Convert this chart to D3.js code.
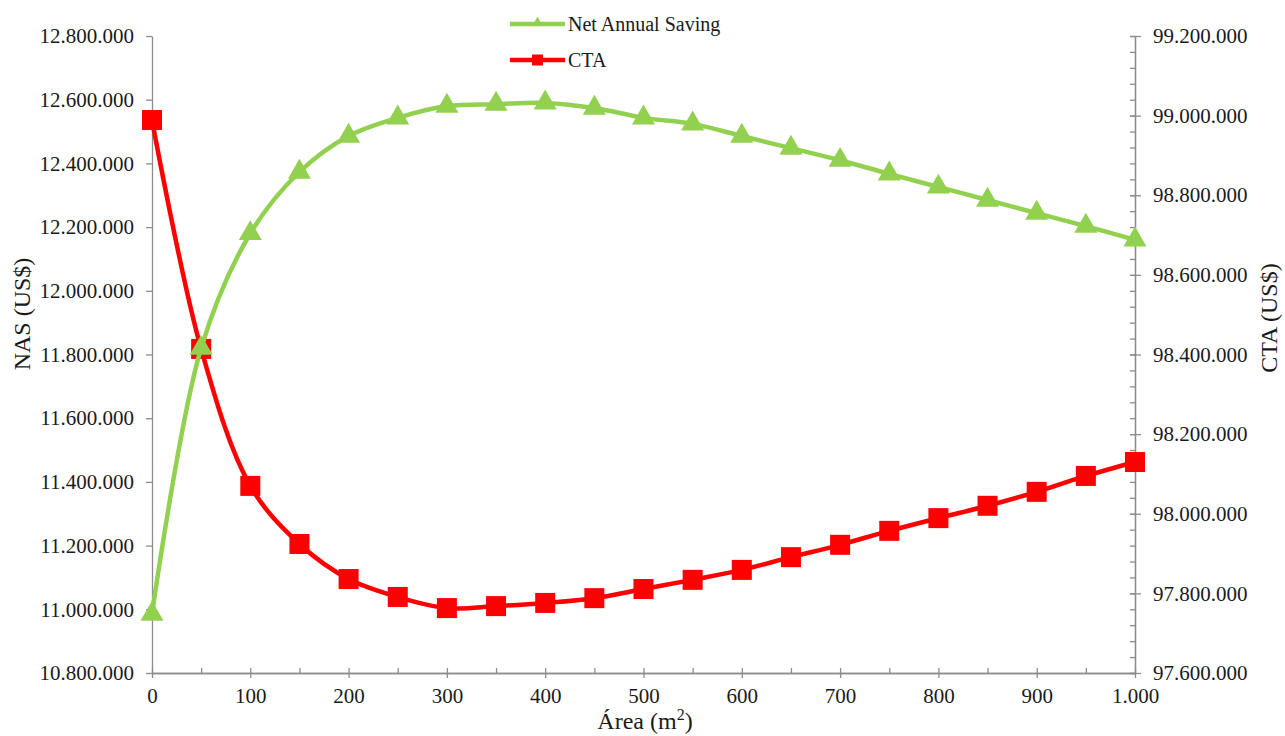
<!DOCTYPE html>
<html>
<head>
<meta charset="utf-8">
<script src="https://cdn.jsdelivr.net/npm/d3@7"></script>
<style>
  html, body { margin: 0; padding: 0; background: #fff; }
  svg { display: block; }
  text { font-family: "Liberation Serif", "Times New Roman", serif; fill: #1a1a1a; }
</style>
</head>
<body>
<svg id="chart" width="1285" height="736"></svg>
<script>
const area = [0, 50, 100, 150, 200, 250, 300, 350, 400, 450, 500, 550, 600, 650, 700, 750, 800, 850, 900, 950, 1000];
const nas = [10985000, 11820000, 12180000, 12373000, 12486000, 12543000, 12580000, 12586000, 12590000, 12574000, 12543000, 12524000, 12486000, 12448000, 12410000, 12367000, 12326000, 12285000, 12244000, 12203000, 12160000];
const cta = [98989000, 98414000, 98070000, 97924000, 97836000, 97791000, 97763000, 97768000, 97776000, 97788000, 97811000, 97834000, 97859000, 97891000, 97922000, 97957000, 97989000, 98020000, 98055000, 98095000, 98130000];
const xTicks = [0, 100, 200, 300, 400, 500, 600, 700, 800, 900, 1000];
const leftTicks = [10800000, 11000000, 11200000, 11400000, 11600000, 11800000, 12000000, 12200000, 12400000, 12600000, 12800000];
const rightTicks = [97600000, 97800000, 98000000, 98200000, 98400000, 98600000, 98800000, 99000000, 99200000];
const seriesNames = ["Net Annual Saving", "CTA"];
const colors = { nas: "#92D050", cta: "#FF0000", axis: "#8c8c8c" };

const svg = d3.select("#chart");
const L = 152, R = 1135, T = 36, B = 673;
const FONT = '"Liberation Serif", "Times New Roman", serif';

const x = d3.scaleLinear().domain([0, 1000]).range([L, R]);
const yL = d3.scaleLinear().domain([10800000, 12800000]).range([B, T]);
const yR = d3.scaleLinear().domain([97600000, 99200000]).range([B, T]);

const fmt = v => d3.format(",")(v).replace(/,/g, ".");

// Left axis
svg.append("g").attr("transform", `translate(${L},0)`)
  .call(d3.axisLeft(yL).tickValues(leftTicks).tickFormat(fmt).tickSizeInner(6).tickSizeOuter(0).tickPadding(12));
// Right axis: minor ticks
const minorR = d3.range(97600000, 99200001, 40000);
svg.append("g").attr("transform", `translate(${R},0)`)
  .call(d3.axisLeft(yR).tickValues(minorR).tickFormat("").tickSizeInner(5).tickSizeOuter(0));
const gR = svg.append("g").attr("transform", `translate(${R},0)`)
  .call(d3.axisRight(yR).tickValues(rightTicks).tickFormat(fmt).tickSizeInner(6).tickSizeOuter(0).tickPadding(12));
gR.selectAll(".tick line").attr("x1", -5);
// Bottom axis minor
const minorX = d3.range(50, 1000, 100);
svg.append("g").attr("transform", `translate(0,${B})`)
  .call(d3.axisTop(x).tickValues(minorX).tickFormat("").tickSizeInner(5).tickSizeOuter(0));
const gX = svg.append("g").attr("transform", `translate(0,${B})`)
  .call(d3.axisBottom(x).tickValues(xTicks).tickFormat(fmt).tickSizeInner(5).tickSizeOuter(0).tickPadding(10));
gX.selectAll(".tick line").attr("y1", -5);

svg.selectAll(".domain").attr("stroke", colors.axis).attr("stroke-width", 1.3);
svg.selectAll(".tick line").attr("stroke", colors.axis).attr("stroke-width", 1.3);
svg.selectAll(".tick text").style("font-family", FONT).style("font-size", "21px").style("fill", "#1a1a1a");

// Axis titles
svg.append("text").attr("transform", `translate(30,314) rotate(-90)`)
  .attr("text-anchor", "middle").style("font-family", FONT).style("font-size", "24px").text("NAS (US$)");
svg.append("text").attr("transform", `translate(1277,318) rotate(-90)`)
  .attr("text-anchor", "middle").style("font-family", FONT).style("font-size", "24px").text("CTA (US$)");
const xt = svg.append("text").attr("x", 645).attr("y", 729).attr("text-anchor", "middle")
  .style("font-family", FONT).style("font-size", "24px");
xt.append("tspan").text("Área (m");
xt.append("tspan").style("font-size", "16px").attr("dy", -9).text("2");
xt.append("tspan").attr("dy", 9).text(")");

// Lines
const curve = d3.curveCatmullRom.alpha(0.5);
const lineL = d3.line().x((d, i) => x(area[i])).y(d => yL(d)).curve(curve);
const lineR = d3.line().x((d, i) => x(area[i])).y(d => yR(d)).curve(curve);

svg.append("path").datum(cta).attr("d", lineR).attr("fill", "none")
  .attr("stroke", colors.cta).attr("stroke-width", 4.5);
svg.append("g").selectAll("rect").data(cta).join("rect")
  .attr("x", (d, i) => x(area[i]) - 10).attr("y", d => yR(d) - 10)
  .attr("width", 20).attr("height", 20).attr("fill", colors.cta);

svg.append("path").datum(nas).attr("d", lineL).attr("fill", "none")
  .attr("stroke", colors.nas).attr("stroke-width", 4.5);
const tri = d3.symbol().type(d3.symbolTriangle).size(230);
svg.append("g").selectAll("path").data(nas).join("path")
  .attr("transform", (d, i) => `translate(${x(area[i])},${yL(d)})`)
  .attr("d", tri).attr("fill", colors.nas);

// Legend
const leg = svg.append("g");
const legY = [24, 60];
const legC = [colors.nas, colors.cta];
seriesNames.forEach((name, i) => {
  leg.append("line").attr("x1", 510).attr("x2", 565).attr("y1", legY[i]).attr("y2", legY[i])
    .attr("stroke", legC[i]).attr("stroke-width", 4.5);
  if (i === 0) {
    leg.append("path").attr("transform", `translate(537.5,${legY[i] - 1})`)
      .attr("d", d3.symbol().type(d3.symbolTriangle).size(50)).attr("fill", legC[i]);
  } else {
    leg.append("rect").attr("x", 532).attr("y", legY[i] - 5.5).attr("width", 11).attr("height", 11).attr("fill", legC[i]);
  }
  leg.append("text").attr("x", 568).attr("y", legY[i] + 7).style("font-family", FONT).style("font-size", "20px").text(name);
});
</script>
</body>
</html>
